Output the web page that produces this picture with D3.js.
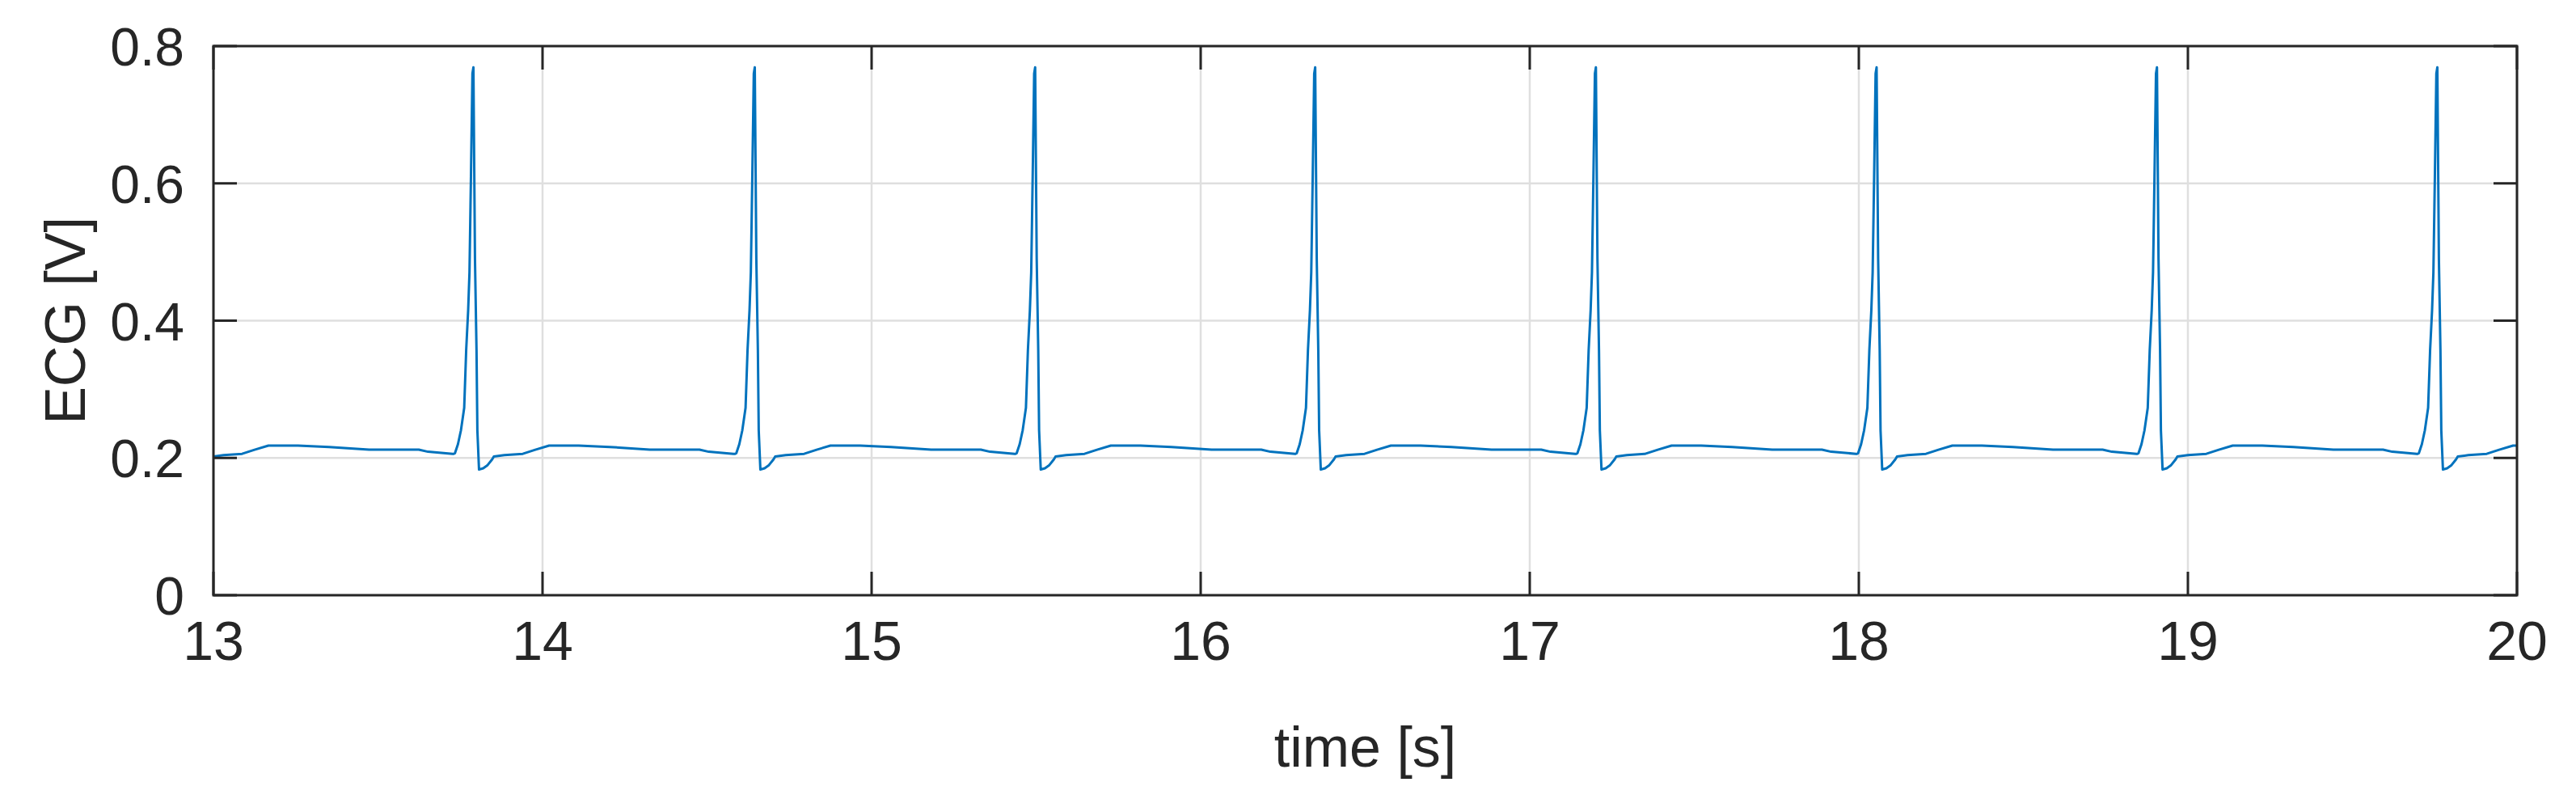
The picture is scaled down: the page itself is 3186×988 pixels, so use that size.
<!DOCTYPE html>
<html>
<head>
<meta charset="utf-8">
<script src="https://cdn.jsdelivr.net/npm/d3@7"></script>
<style>
  body { margin: 0; background: #fff; }
  text { font-family: "Liberation Sans", Arial, sans-serif; fill: #262626; }
</style>
</head>
<body>
<svg id="chart" width="3186" height="988"></svg>
<script>
'use strict';

// R-peak times [s]
var peakTimes = [12.937, 13.79, 14.645, 15.497, 16.348, 17.201, 18.054, 18.906, 19.758, 20.611];

// one beat, offsets from the R peak [s] and voltage [V]
var beatOffsets = [-0.06, -0.056, -0.047, -0.038, -0.028, -0.022, -0.016, -0.012, -0.0075, -0.003, 0,
    0.0047, 0.0094, 0.012, 0.017, 0.03, 0.042, 0.057, 0.062, 0.094, 0.15, 0.188, 0.23, 0.32, 0.414,
    0.536, 0.687, 0.715, 0.79];
var beatValues = [0.206, 0.207, 0.220, 0.240, 0.273, 0.357, 0.415, 0.47, 0.61, 0.76, 0.769,
    0.49, 0.357, 0.24, 0.183, 0.185, 0.189, 0.198, 0.202, 0.204, 0.206, 0.212, 0.218, 0.218, 0.216,
    0.212, 0.212, 0.209, 0.206];

var xTicks = [13, 14, 15, 16, 17, 18, 19, 20];
var yTicks = [0, 0.2, 0.4, 0.6, 0.8];

var plotLeft = 264, plotRight = 3113, plotTop = 57, plotBottom = 736;

var svg = d3.select('#chart');

var x = d3.scaleLinear().domain([13, 20]).range([plotLeft, plotRight]);
var y = d3.scaleLinear().domain([0, 0.8]).range([plotBottom, plotTop]);

var points = [];
peakTimes.forEach(function (p) {
    beatOffsets.forEach(function (d, i) {
        points.push([p + d, beatValues[i]]);
    });
});

// grid
svg.append('g').selectAll('line').data(xTicks).enter().append('line')
    .attr('x1', x).attr('x2', x).attr('y1', plotTop).attr('y2', plotBottom)
    .attr('stroke', '#dfdfdf').attr('stroke-width', 2.5);
svg.append('g').selectAll('line').data(yTicks).enter().append('line')
    .attr('y1', y).attr('y2', y).attr('x1', plotLeft).attr('x2', plotRight)
    .attr('stroke', '#dfdfdf').attr('stroke-width', 2.5);

svg.append('clipPath').attr('id', 'clip').append('rect')
    .attr('x', plotLeft).attr('y', plotTop)
    .attr('width', plotRight - plotLeft).attr('height', plotBottom - plotTop);

svg.append('path')
    .datum(points)
    .attr('clip-path', 'url(#clip)')
    .attr('fill', 'none')
    .attr('stroke', '#0072BD')
    .attr('stroke-width', 3)
    .attr('stroke-linejoin', 'round')
    .attr('d', d3.line().x(function (d) { return x(d[0]); }).y(function (d) { return y(d[1]); }));

// axes (ticks inside, box)
var tl = 29;
var axis = svg.append('g').attr('stroke', '#262626').attr('stroke-width', 3);
axis.append('g').selectAll('line').data(xTicks).enter().append('line')
    .attr('x1', x).attr('x2', x).attr('y1', plotBottom).attr('y2', plotBottom - tl);
axis.append('g').selectAll('line').data(xTicks).enter().append('line')
    .attr('x1', x).attr('x2', x).attr('y1', plotTop).attr('y2', plotTop + tl);
axis.append('g').selectAll('line').data(yTicks).enter().append('line')
    .attr('y1', y).attr('y2', y).attr('x1', plotLeft).attr('x2', plotLeft + tl);
axis.append('g').selectAll('line').data(yTicks).enter().append('line')
    .attr('y1', y).attr('y2', y).attr('x1', plotRight).attr('x2', plotRight - tl);
axis.append('rect').attr('x', plotLeft).attr('y', plotTop)
    .attr('width', plotRight - plotLeft).attr('height', plotBottom - plotTop).attr('fill', 'none');

svg.append('g').selectAll('text').data(xTicks).enter().append('text')
    .attr('x', x).attr('y', plotBottom + 80)
    .attr('text-anchor', 'middle').attr('font-size', 68)
    .text(function (d) { return d; });

svg.append('g').selectAll('text').data(yTicks).enter().append('text')
    .attr('x', plotLeft - 36).attr('y', function (d) { return y(d) + 24; })
    .attr('text-anchor', 'end').attr('font-size', 66)
    .text(function (d) { return d; });

svg.append('text').attr('x', (plotLeft + plotRight) / 2).attr('y', 948)
    .attr('text-anchor', 'middle').attr('font-size', 70).text('time [s]');

svg.append('text').attr('transform', 'translate(105,' + (plotTop + plotBottom) / 2 + ') rotate(-90)')
    .attr('text-anchor', 'middle').attr('font-size', 70).text('ECG [V]');
</script>
</body>
</html>
